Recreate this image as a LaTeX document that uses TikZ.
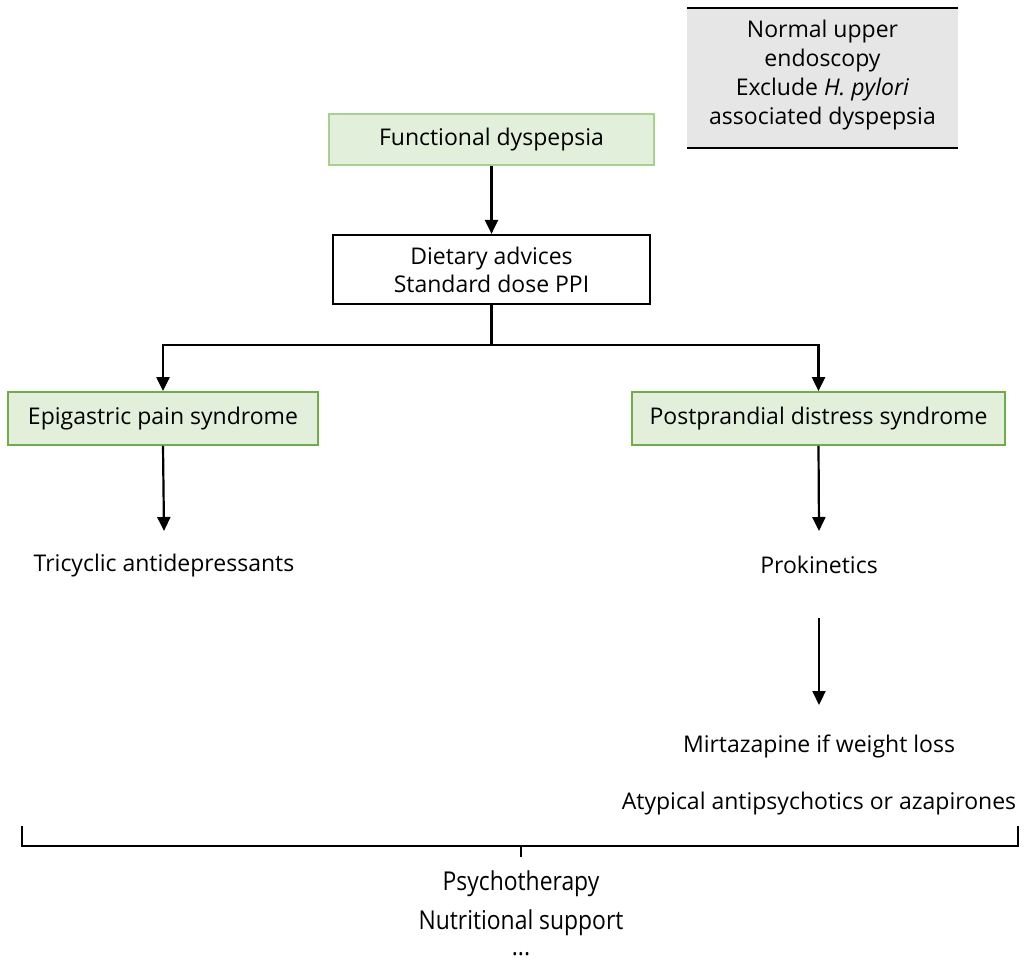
\documentclass[tikz,border=0pt]{standalone}
\usepackage{fontspec}
\setmainfont{Open Sans}
\usetikzlibrary{arrows.meta}
\definecolor{greenfill}{HTML}{E2EFDA}
\definecolor{greenlight}{HTML}{A9D18E}
\definecolor{greendark}{HTML}{70AD47}
\definecolor{grayfill}{HTML}{E6E6E6}
\tikzset{
  txt/.style={font=\fontsize{23}{27}\selectfont, inner sep=0pt, align=center},
  gbox/.style={draw=greendark, fill=greenfill, line width=1.8pt, font=\fontsize{23}{27}\selectfont, inner sep=0pt},
  arr/.style={line width=2.2pt, -{Triangle[length=14pt,width=13pt]}},
  ln/.style={line width=2.2pt},
}
\begin{document}
\begin{tikzpicture}[x=1pt,y=1pt]
\useasboundingbox (0,0) rectangle (1025,-961);
% top-right gray box
\fill[grayfill] (687,-8) rectangle (958,-148);
\draw[line width=2.4pt] (687,-8) -- (958,-8);
\draw[line width=2.4pt] (687,-148) -- (958,-148);
\node[txt, font=\fontsize{23}{29}\selectfont] (note) at (822.5,-75) {Normal upper\\endoscopy\\Exclude \textit{H. pylori}\\associated dyspepsia};
% functional dyspepsia
\node[gbox, draw=greenlight, minimum width=325pt, minimum height=51pt] (fd) at (491.5,-139.5) {Functional dyspepsia};
% dietary
\node[draw=black, fill=white, line width=2.2pt, minimum width=317pt, minimum height=69pt, txt, font=\fontsize{23}{28}\selectfont] (diet) at (491.5,-269.5) {Dietary advices\\Standard dose PPI};
% syndromes
\node[gbox, minimum width=310pt, minimum height=53pt] (eps) at (163,-418.5) {Epigastric pain syndrome};
\node[gbox, minimum width=373pt, minimum height=53pt] (pds) at (818.5,-418.5) {Postprandial distress syndrome};
% treatments
\node[txt] (tca) at (164,-566) {Tricyclic antidepressants};
\node[txt] (pro) at (819,-565) {Prokinetics};
\coordinate (proB) at (819,-618);
\node[txt] (mir) at (819,-746) {Mirtazapine if weight loss};
\node[txt] (aty) at (819,-804) {Atypical antipsychotics or azapirones};
% connectors
\draw[arr] (fd.south) -- (diet.north);
\coordinate (split) at (491.5,-345);
\draw[ln] (diet.south) -- (split);
\draw[arr] (split) -| (eps.north);
\draw[arr] (split) -| (pds.north);
\draw[arr] (eps.south) -- (164,-531);
\draw[arr] (pds.south) -- (819,-531);
\draw[arr] (proB) -- (819,-705);
% bracket
\coordinate (bl) at (22,-826);
\coordinate (br) at (1018,-826);
\coordinate (bm) at (521,-846);
\draw[ln] (bl) -- (22,-846) -- (1018,-846) -- (br);
\draw[ln] (bm) -- (521,-857);
% bottom
\node[txt, font=\fontsize{26}{30}\selectfont] (psy) at (521,-884) {\scalebox{0.88}[1]{Psychotherapy}};
\node[txt, font=\fontsize{26}{30}\selectfont] (nut) at (521,-923) {\scalebox{0.88}[1]{Nutritional support}};
\node[inner sep=0pt, font=\fontsize{26}{30}\selectfont, anchor=base] (dots) at (521,-955) {\scalebox{0.88}[1]{...}};
\end{tikzpicture}
\end{document}
